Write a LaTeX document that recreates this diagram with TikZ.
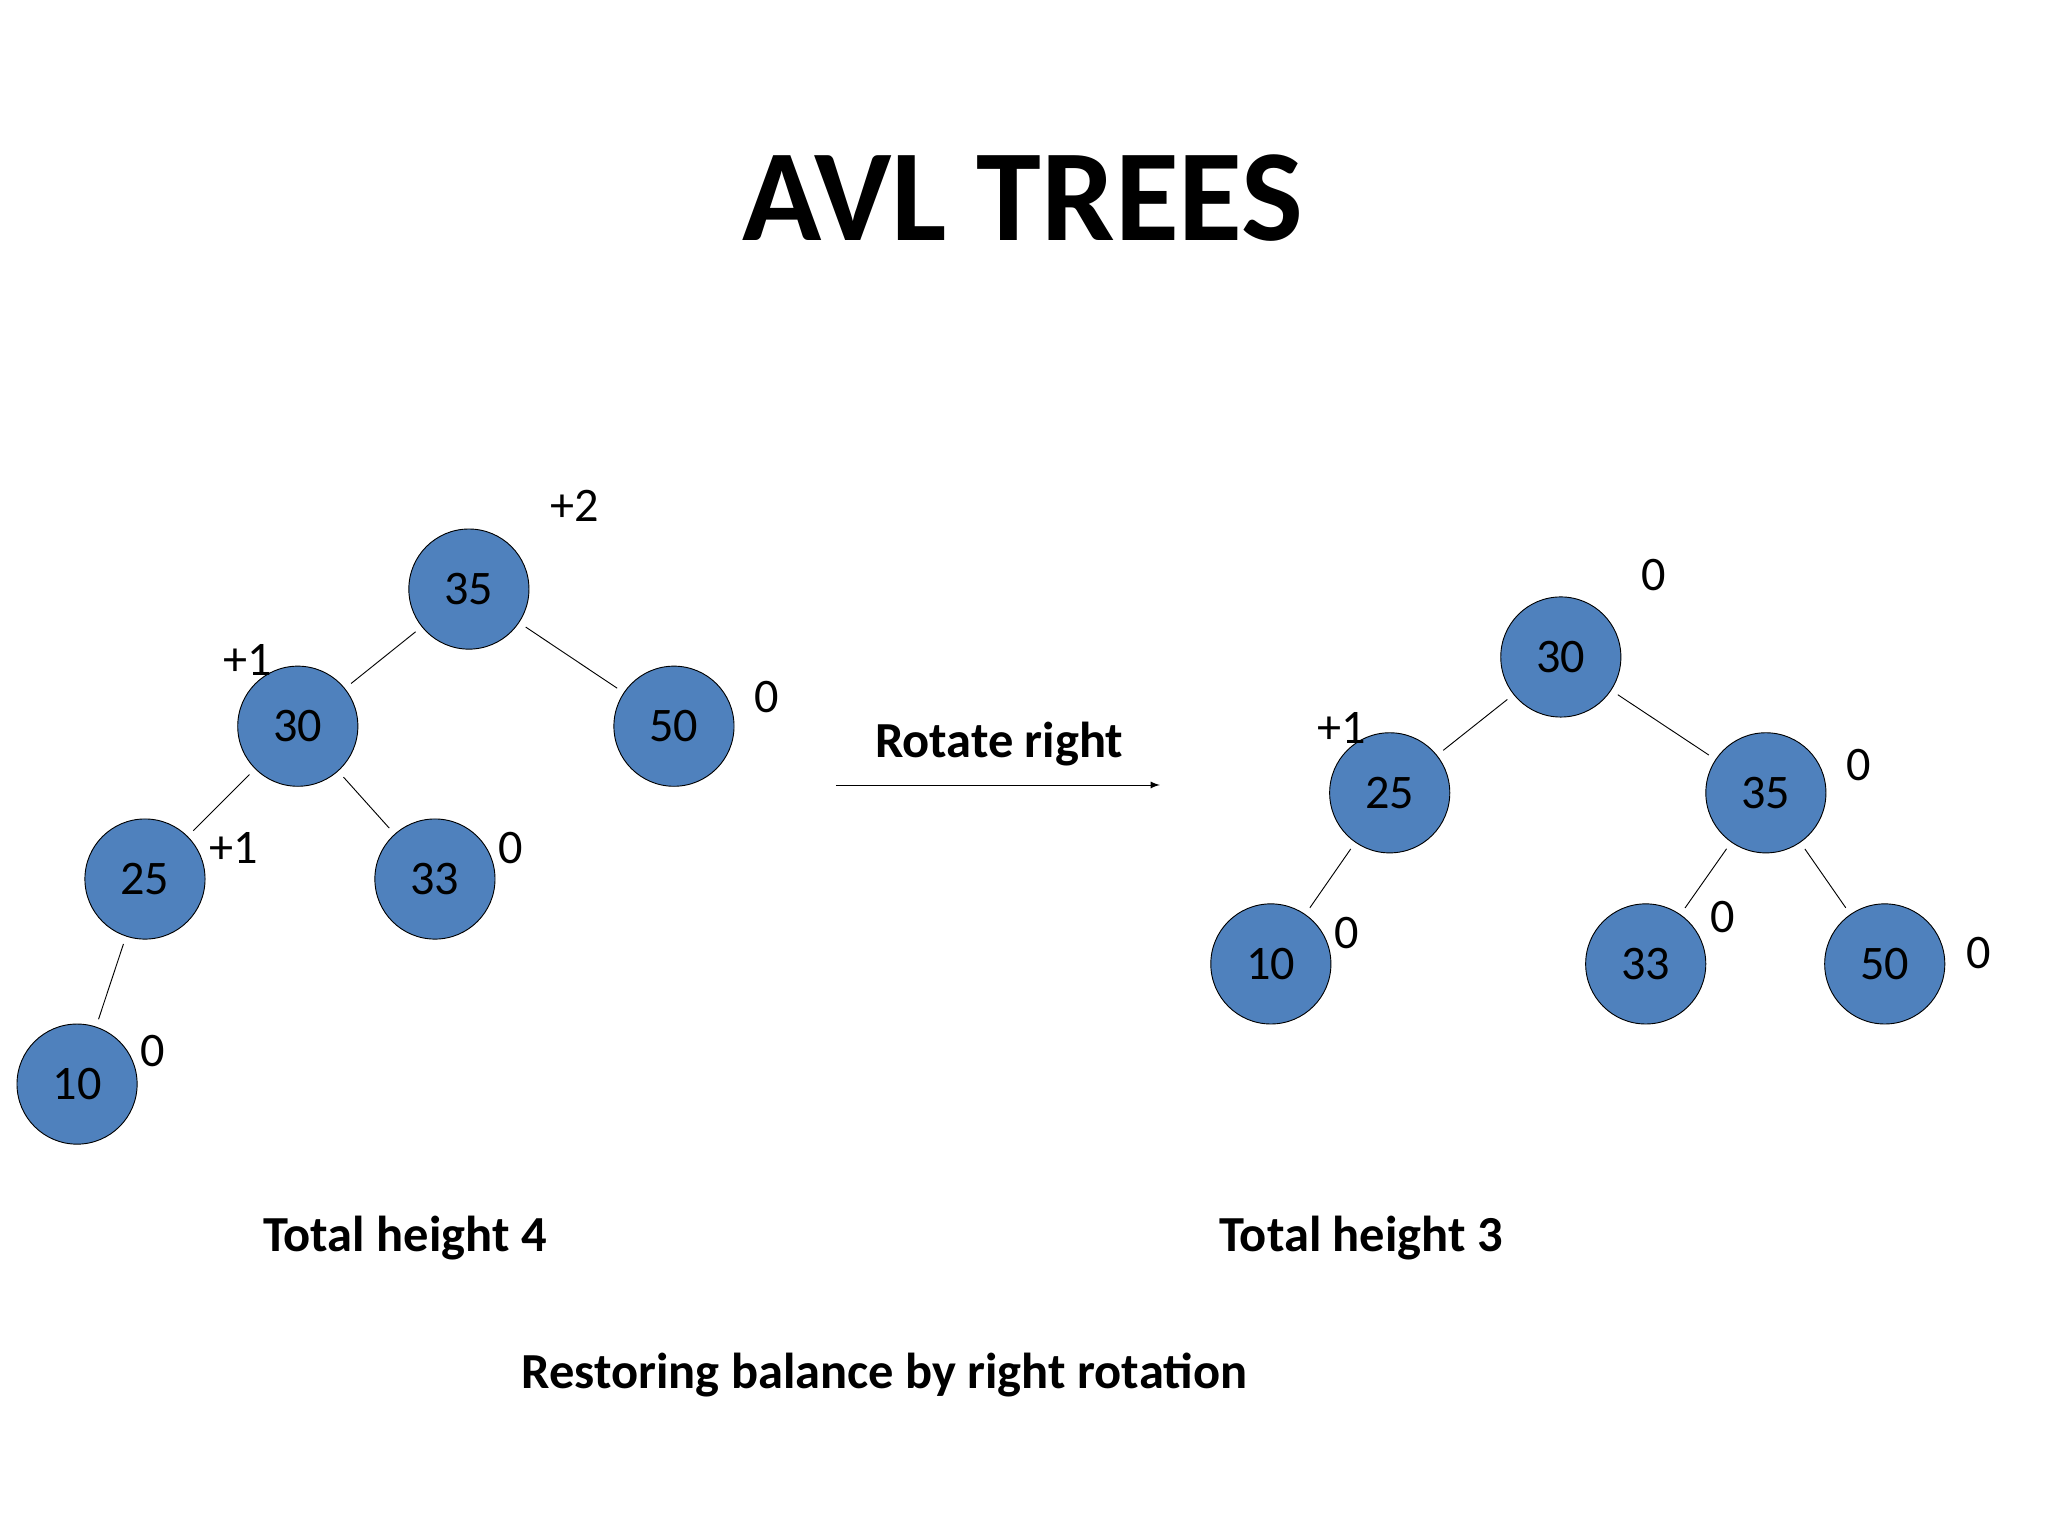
\documentclass[tikz,border=0pt]{standalone}
\usepackage{fontspec}
\setmainfont{Carlito}
\begin{document}
\begin{tikzpicture}[x=0.02cm,y=-0.02cm,
  nd/.style={circle,draw=black,fill={rgb,255:red,79;green,129;blue,189},minimum size=1.84cm,inner sep=0pt,font=\fontsize{21}{24}\selectfont},
  lb/.style={font=\fontsize{21}{24}\selectfont},
  bt/.style={font=\bfseries\fontsize{22}{26}\selectfont},
  ed/.style={draw=black,shorten <=0.12cm,shorten >=0.12cm}]
\useasboundingbox (0,0) rectangle (1568,1176);
\node[font=\bfseries\fontsize{57}{64}\selectfont] (title) at (783,152) {AVL TREES};
% left tree
\node[nd] (l35) at (359,451) {35};
\node[nd] (l30) at (228,556) {30};
\node[nd] (l50) at (516,556) {50};
\node[nd] (l25) at (111,673) {25};
\node[nd] (l33) at (333,673) {33};
\node[nd] (l10) at (59,830) {10};
\draw[ed] (l35) -- (l30);
\draw[ed] (l35) -- (l50);
\draw[ed] (l30) -- (l25);
\draw[ed] (l30) -- (l33);
\draw[ed] (l25) -- (l10);
\node[lb] (a1) at (440,387) {+2};
\node[lb] (a2) at (190,505) {+1};
\node[lb] (a3) at (587,534) {0};
\node[lb] (a4) at (179,649) {+1};
\node[lb] (a5) at (391,649) {0};
\node[lb] (a6) at (117,805) {0};
% right tree
\node[nd] (r30) at (1195,503) {30};
\node[nd] (r25) at (1064,607) {25};
\node[nd] (r35) at (1352,607) {35};
\node[nd] (r10) at (973,738) {10};
\node[nd] (r33) at (1260,738) {33};
\node[nd] (r50) at (1443,738) {50};
\draw[ed] (r30) -- (r25);
\draw[ed] (r30) -- (r35);
\draw[ed] (r25) -- (r10);
\draw[ed] (r35) -- (r33);
\draw[ed] (r35) -- (r50);
\node[lb] (b1) at (1266,440) {0};
\node[lb] (b2) at (1027,557) {+1};
\node[lb] (b3) at (1423,586) {0};
\node[lb] (b4) at (1031,714) {0};
\node[lb] (b5) at (1319,702) {0};
\node[lb] (b6) at (1515,730) {0};
% arrow
\node[bt] (rot) at (765,570) {Rotate right};
\coordinate (s) at (640,601);
\coordinate (e) at (888,601);
\draw[-latex] (s) -- (e);
\node[bt] (h4) at (310,948) {Total height 4};
\node[bt] (h3) at (1042,948) {Total height 3};
\node[bt] (cap) at (677,1053) {Restoring balance by right rotation};
\end{tikzpicture}
\end{document}
